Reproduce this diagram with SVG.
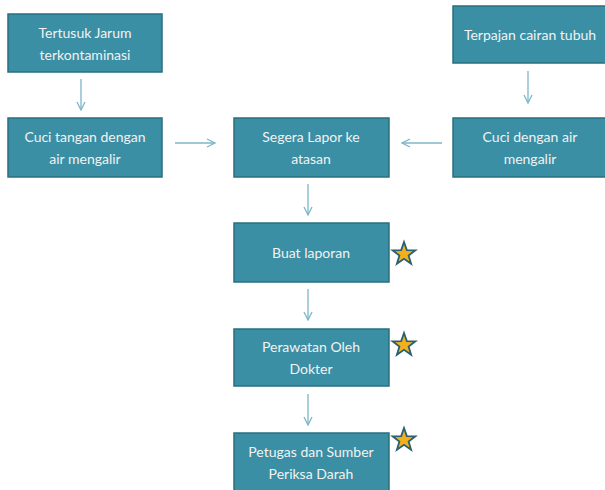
<svg xmlns="http://www.w3.org/2000/svg" width="605" height="490" viewBox="0 0 605 490">
<defs>
<style>
.box{fill:#3A8FA4;stroke:#2A6F80;stroke-width:1.5}
.t{font-family:Lato,"Open Sans",sans-serif;font-size:14px;fill:#F2F2F2;text-anchor:middle}
.c{stroke:#7DB6C6;stroke-width:1.3;fill:none}
.star{fill:#F2B01E;stroke:#2A6070;stroke-width:1.8;stroke-linejoin:miter}
</style>
<marker id="ah" viewBox="0 0 10 10" refX="9" refY="5" markerWidth="10" markerHeight="10" markerUnits="userSpaceOnUse" orient="auto">
<path d="M1,1 L9,5 L1,9" fill="none" stroke="#7DB6C6" stroke-width="1.3"/>
</marker>
<path id="st" d="M0,-12 L2.8,-3.9 L11.4,-3.7 L4.6,1.5 L7.1,9.7 L0,4.8 L-7.1,9.7 L-4.6,1.5 L-11.4,-3.7 L-2.8,-3.9 Z"/>
</defs>
<rect width="605" height="490" fill="#FFFFFF"/>
<g id="connectors">
<line class="c" x1="81" y1="79" x2="81" y2="110" marker-end="url(#ah)"/>
<line class="c" x1="528" y1="71" x2="528" y2="103" marker-end="url(#ah)"/>
<line class="c" x1="175" y1="143" x2="215" y2="143" marker-end="url(#ah)"/>
<line class="c" x1="442" y1="143" x2="402" y2="143" marker-end="url(#ah)"/>
<line class="c" x1="308" y1="184" x2="308" y2="215" marker-end="url(#ah)"/>
<line class="c" x1="308" y1="289" x2="308" y2="320" marker-end="url(#ah)"/>
<line class="c" x1="308" y1="394" x2="308" y2="425" marker-end="url(#ah)"/>
</g>
<g id="n1"><rect class="box" x="8" y="14" width="154" height="58"/><text class="t" x="85" y="38">Tertusuk Jarum</text><text class="t" x="85" y="60">terkontaminasi</text></g>
<g id="n2"><rect class="box" x="453" y="6" width="154" height="57"/><text class="t" x="530" y="40">Terpajan cairan tubuh</text></g>
<g id="n3"><rect class="box" x="8" y="118" width="154" height="59"/><text class="t" x="85" y="142">Cuci tangan dengan</text><text class="t" x="85" y="164">air mengalir</text></g>
<g id="n4"><rect class="box" x="234" y="118" width="155" height="59"/><text class="t" x="311" y="142">Segera Lapor ke</text><text class="t" x="311" y="164">atasan</text></g>
<g id="n5"><rect class="box" x="453" y="118" width="154" height="59"/><text class="t" x="530" y="142">Cuci dengan air</text><text class="t" x="530" y="164">mengalir</text></g>
<g id="n6"><rect class="box" x="234" y="223" width="155" height="59"/><text class="t" x="311" y="258">Buat laporan</text></g>
<g id="n7"><rect class="box" x="234" y="329" width="155" height="57"/><text class="t" x="311" y="352">Perawatan Oleh</text><text class="t" x="311" y="374">Dokter</text></g>
<g id="n8"><rect class="box" x="234" y="433" width="155" height="60"/><text class="t" x="311" y="457">Petugas dan Sumber</text><text class="t" x="311" y="479">Periksa Darah</text></g>
<g id="stars">
<use href="#st" class="star" x="404" y="254"/>
<use href="#st" class="star" x="404" y="345"/>
<use href="#st" class="star" x="404" y="440"/>
</g>
</svg>
